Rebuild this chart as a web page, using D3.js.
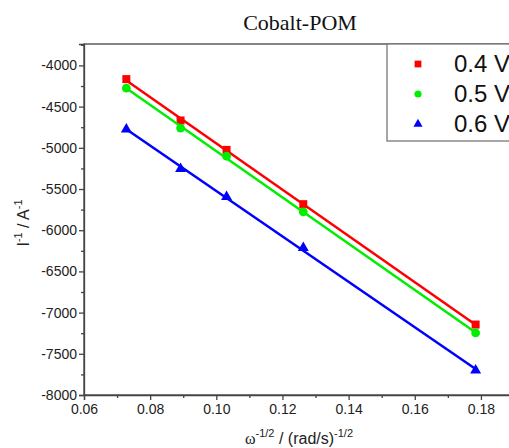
<!DOCTYPE html>
<html>
<head>
<meta charset="utf-8">
<script src="https://cdn.jsdelivr.net/npm/d3@7"></script>
<style>
  html, body { margin: 0; padding: 0; background: #fff; overflow: hidden; }
  svg { display: block; }
</style>
</head>
<body>
<svg id="chart" width="509" height="448"></svg>
<script>
// omega^-1/2 values (rad/s)^-1/2
const xVals = [0.0728, 0.0892, 0.1031, 0.1263, 0.1784];

// I^-1 for each potential
const series04 = [-4166, -4668, -5025, -5684, -7145];
const series05 = [-4276, -4761, -5101, -5778, -7247];
const series06 = [-4777, -5256, -5596, -6215, -7700];

const seriesNames = ["0.4 V", "0.5 V", "0.6 V"];
const seriesColors = ["#ff0000", "#00ee00", "#0000ff"];

const xTicks = [0.06, 0.08, 0.10, 0.12, 0.14, 0.16, 0.18];
const yTicks = [-8000, -7500, -7000, -6500, -6000, -5500, -5000, -4500, -4000];

const svg = d3.select("#chart");
const L = 84, T = 44, R = 514, B = 395;

const x = d3.scaleLinear().domain([0.06, 0.19]).range([L, R]);
const y = d3.scaleLinear().domain([-8000, -3740]).range([B, T]);

// frame
svg.append("rect")
  .attr("x", L).attr("y", T).attr("width", R - L).attr("height", B - T)
  .attr("fill", "none").attr("stroke", "#444").attr("stroke-width", 1.3);

// y axis
const yAxis = svg.append("g").attr("transform", `translate(${L},0)`)
  .call(d3.axisLeft(y).tickValues(yTicks).tickSize(5).tickFormat(d => String(d)));
svg.append("g").attr("transform", `translate(${L},0)`)
  .call(d3.axisLeft(y).tickValues(d3.range(-7750, -3749, 500)).tickSize(3).tickFormat(""))
  .call(g => g.select(".domain").remove());

// x axis
const xAxis = svg.append("g").attr("transform", `translate(0,${B})`)
  .call(d3.axisBottom(x).tickValues(xTicks).tickSize(5).tickFormat(d3.format(".2f")));
svg.append("g").attr("transform", `translate(0,${B})`)
  .call(d3.axisBottom(x).tickValues([0.07, 0.09, 0.11, 0.13, 0.15, 0.17]).tickSize(3).tickFormat(""))
  .call(g => g.select(".domain").remove());

svg.selectAll(".tick line, .domain").attr("stroke", "#444").attr("stroke-width", 1.3);
svg.selectAll(".tick text")
  .attr("font-family", "Liberation Sans, Arial, sans-serif")
  .attr("font-size", 14).attr("fill", "#222");
yAxis.selectAll(".tick text").attr("x", -7);
xAxis.selectAll(".tick text").attr("y", 9);

// data series with linear fit
const allSeries = [series04, series05, series06];
const shapes = [d3.symbolSquare, d3.symbolCircle, d3.symbolTriangle];
const sizes = [64, 60, 52];

allSeries.forEach((vals, i) => {
  const mx = d3.mean(xVals), my = d3.mean(vals);
  let sxy = 0, sxx = 0;
  xVals.forEach((xv, k) => { sxy += (xv - mx) * (vals[k] - my); sxx += (xv - mx) ** 2; });
  const slope = sxy / sxx, icpt = my - slope * mx;
  const x0 = d3.min(xVals), x1 = d3.max(xVals);
  svg.append("line")
    .attr("x1", x(x0)).attr("y1", y(icpt + slope * x0))
    .attr("x2", x(x1)).attr("y2", y(icpt + slope * x1))
    .attr("stroke", seriesColors[i]).attr("stroke-width", 2.5);
  svg.append("g").selectAll("path")
    .data(vals)
    .enter().append("path")
    .attr("d", d3.symbol().type(shapes[i]).size(sizes[i]))
    .attr("transform", (d, k) => `translate(${x(xVals[k])},${y(d)})`)
    .attr("fill", seriesColors[i]);
});

// legend
const lg = svg.append("g");
lg.append("rect")
  .attr("x", 387).attr("y", T).attr("width", 140).attr("height", 97)
  .attr("fill", "#fff").attr("stroke", "#777").attr("stroke-width", 1.3);
seriesNames.forEach((name, i) => {
  const yy = 64 + i * 30;
  lg.append("path")
    .attr("d", d3.symbol().type(shapes[i]).size([46, 40, 36][i]))
    .attr("transform", `translate(418,${yy})`)
    .attr("fill", seriesColors[i]);
  lg.append("text")
    .attr("x", 454).attr("y", yy + 8)
    .attr("font-family", "Liberation Sans, Arial, sans-serif")
    .attr("font-size", 24).attr("fill", "#111")
    .text(name);
});

// title
svg.append("text")
  .attr("x", 300).attr("y", 30).attr("text-anchor", "middle")
  .attr("font-family", "Liberation Serif, Times New Roman, serif")
  .attr("font-size", 22).attr("fill", "#111")
  .text("Cobalt-POM");

// x label
const xl = svg.append("text")
  .attr("x", 299).attr("y", 444).attr("text-anchor", "middle")
  .attr("font-family", "Liberation Sans, Arial, sans-serif")
  .attr("font-size", 16).attr("fill", "#222");
xl.append("tspan").attr("font-family", "Liberation Serif, serif").text("ω");
xl.append("tspan").attr("dy", -7).attr("font-size", 11).text("-1/2");
xl.append("tspan").attr("dy", 7).text(" / (rad/s)");
xl.append("tspan").attr("dy", -7).attr("font-size", 11).text("-1/2");

// y label
const yl = svg.append("text")
  .attr("transform", "translate(29,223) rotate(-90)")
  .attr("text-anchor", "middle")
  .attr("font-family", "Liberation Sans, Arial, sans-serif")
  .attr("font-size", 16).attr("fill", "#222");
yl.append("tspan").text("I");
yl.append("tspan").attr("dy", -7).attr("font-size", 11).text("-1");
yl.append("tspan").attr("dy", 7).text(" / A");
yl.append("tspan").attr("dy", -7).attr("font-size", 11).text("-1");
</script>
</body>
</html>
